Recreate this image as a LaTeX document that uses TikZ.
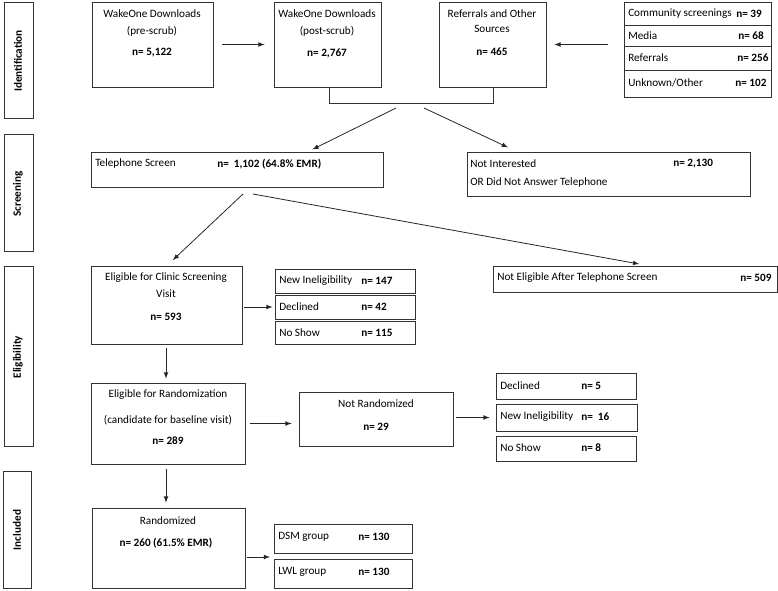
\documentclass[tikz,border=0pt]{standalone}
\usepackage{fontspec}
\setmainfont{Carlito}
\usepackage{tikz}
\usetikzlibrary{fit}
\tikzset{
  box/.style={draw=black!80, line width=0.6pt, inner sep=0pt, fit={#1}},
  txt/.style={inner sep=0pt, font=\fontsize{8.4}{10}\selectfont},
  ntxt/.style={txt, font=\fontsize{8.4}{10}\selectfont\bfseries},
  side/.style={inner sep=0pt, rotate=90, font=\fontsize{8.4}{10}\selectfont\bfseries},
  arr/.style={-latex, draw=black!85, line width=0.6pt}
}

\begin{document}
\begin{tikzpicture}[x=0.75pt, y=-0.75pt]
    \useasboundingbox (0,0) rectangle (778,590);
    % phase labels
    \node[box={(4,2) (33,118)}] (sid) {};
    \node[side] (sidT) at (18,61) {Identification};
    \node[box={(4,134) (33,251)}] (sscr) {};
    \node[side] (sscrT) at (18,194) {Screening};
    \node[box={(4,266) (33,446)}] (selg) {};
    \node[side] (selgT) at (18,357) {Eligibility};
    \node[box={(3,471) (31,588)}] (sinc) {};
    \node[side] (sincT) at (17,530) {Included};

    % identification
    \node[box={(92,2) (213,87)}] (pre) {};
    \node[txt] (preA) at (152,14) {WakeOne Downloads};
    \node[txt] (preB) at (152,31) {(pre-scrub)};
    \node[ntxt] (preN) at (152,53) {n= 5,122};
    \node[box={(274,2) (381,87)}] (post) {};
    \node[txt] (postA) at (327,14) {WakeOne Downloads};
    \node[txt] (postB) at (327,31) {(post-scrub)};
    \node[ntxt] (postN) at (327,53) {n= 2,767};
    \node[box={(439,2) (546,87)}] (ref) {};
    \node[txt] (refA) at (492,14) {Referrals and Other};
    \node[txt] (refB) at (492,29) {Sources};
    \node[ntxt] (refN) at (492,52) {n= 465};
    \node[box={(624,2) (771,97)}] (src) {};
    \draw[black!80, line width=0.6pt] (624,25) -- (771,25) (624,46) -- (771,46) (624,70) -- (771,70);
    \node[txt, anchor=west] (srcA) at (628,13.5) {Community screenings};
    \node[ntxt, anchor=west] (srcAn) at (736,13.5) {n= 39};
    \node[txt, anchor=west] (srcB) at (628,35.5) {Media};
    \node[ntxt, anchor=west] (srcBn) at (738,35.5) {n= 68};
    \node[txt, anchor=west] (srcC) at (628,58) {Referrals};
    \node[ntxt, anchor=west] (srcCn) at (737,58) {n= 256};
    \node[txt, anchor=west] (srcD) at (628,83) {Unknown/Other};
    \node[ntxt, anchor=west] (srcDn) at (735,83) {n= 102};

    \draw[arr, shorten <=6.75pt, shorten >=6.75pt] (pre) -- (post);
    \draw[arr, shorten <=12pt, shorten >=6pt] (src.west |- ref.east) -- (ref.east);
    \coordinate (jL) at (329,103);
    \coordinate (jR) at (493,103);
    \draw[black!80, line width=0.6pt] (post.south -| jL) -- (jL) -- (jR) -- (ref.south -| jR);
    \coordinate (splitL) at (396,108);
    \coordinate (splitR) at (424,108);

    % screening
    \node[box={(91,152) (383,187)}] (tel) {};
    \node[txt, anchor=west] (telA) at (95,164) {Telephone Screen};
    \node[ntxt, anchor=west] (telN) at (217,164) {n=\ \ 1,102 (64.8\% EMR)};
    \node[box={(467,152) (750,196)}] (nint) {};
    \node[txt, anchor=west] (nintA) at (470,164) {Not Interested};
    \node[ntxt, anchor=west] (nintN) at (673,164) {n= 2,130};
    \node[txt, anchor=west] (nintB) at (470,183) {OR Did Not Answer Telephone};
    \draw[arr, shorten >=3.75pt] (splitL) -- (tel.north -| 308,0);
    \draw[arr, shorten >=7.5pt] (splitR) -- (nint.north -| 517,0);
    \coordinate (telL) at (243,194);
    \coordinate (telR) at (253,194);

    % eligibility
    \node[box={(91,266) (242,344)}] (clin) {};
    \node[txt] (clinA) at (166,278) {Eligible for Clinic Screening};
    \node[txt] (clinB) at (166,294) {Visit};
    \node[ntxt] (clinN) at (166,317) {n= 593};
    \node[box={(493,266) (777,292)}] (nelig) {};
    \node[txt, anchor=west] (neligA) at (497,278) {Not Eligible After Telephone Screen};
    \node[ntxt, anchor=west] (neligN) at (740,278) {n= 509};
    \draw[arr, shorten >=6pt] (telL) -- (clin.north -| 167,0);
    \draw[arr, shorten >=6.75pt] (telR) -- (nelig.north -| 648,0);

    \node[box={(275,269) (415,293)}] (cinel) {};
    \node[txt, anchor=west] (cinelA) at (279,281) {New Ineligibility};
    \node[ntxt, anchor=west] (cinelN) at (361,281) {n= 147};
    \node[box={(275,295) (415,319)}] (cdec) {};
    \node[txt, anchor=west] (cdecA) at (279,307) {Declined};
    \node[ntxt, anchor=west] (cdecN) at (361,307) {n= 42};
    \node[box={(275,321) (415,344)}] (cshow) {};
    \node[txt, anchor=west] (cshowA) at (279,333) {No Show};
    \node[ntxt, anchor=west] (cshowN) at (361,333) {n= 115};
    \draw[arr, shorten <=1.5pt, shorten >=1.5pt] (clin.east |- cdec) -- (cdec.west);

    \node[box={(91,383) (245,464)}] (rand) {};
    \node[txt] (randA) at (168,395) {Eligible for Randomization};
    \node[txt] (randB) at (168,420) {(candidate for baseline visit)};
    \node[ntxt] (randN) at (168,441) {n= 289};
    \draw[arr, shorten <=3pt, shorten >=3pt] (clin.south -| 166,0) -- (rand.north -| 166,0);

    \node[box={(299,392) (453,446)}] (notr) {};
    \node[txt] (notrA) at (376,404) {Not Randomized};
    \node[ntxt] (notrN) at (376,427) {n= 29};
    \draw[arr, shorten <=3.75pt, shorten >=5.25pt] (rand.east) -- (rand.east -| notr.west);

    \node[box={(496,373) (636,399)}] (rdec) {};
    \node[txt, anchor=west] (rdecA) at (500,386) {Declined};
    \node[ntxt, anchor=west] (rdecN) at (581,386) {n= 5};
    \node[box={(496,404) (637,431)}] (rinel) {};
    \node[txt, anchor=west] (rinelA) at (500,417) {New Ineligibility};
    \node[ntxt, anchor=west] (rinelN) at (581,417) {n=\ \ 16};
    \node[box={(496,436) (636,461)}] (rshow) {};
    \node[txt, anchor=west] (rshowA) at (500,448) {No Show};
    \node[ntxt, anchor=west] (rshowN) at (581,448) {n= 8};
    \draw[arr, shorten <=2.25pt, shorten >=4.5pt] (notr.east |- rinel) -- (rinel.west);

    % included
    \node[box={(92,508) (245,588)}] (randz) {};
    \node[txt] (randzA) at (168,521) {Randomized};
    \node[ntxt] (randzN) at (166,543) {n= 260 (61.5\% EMR)};
    \draw[arr, shorten <=3.75pt, shorten >=3.75pt] (rand.south -| 166,0) -- (randz.north -| 166,0);

    \node[box={(274,524) (412,553)}] (dsm) {};
    \node[txt, anchor=west] (dsmA) at (278,537) {DSM group};
    \node[ntxt, anchor=west] (dsmN) at (358,537) {n= 130};
    \node[box={(274,559) (412,588)}] (lwl) {};
    \node[txt, anchor=west] (lwlA) at (278,572) {LWL group};
    \node[ntxt, anchor=west] (lwlN) at (358,572) {n= 130};
    \coordinate (grp) at (274,557);
    \draw[arr, shorten <=1.5pt, shorten >=3pt] (randz.east |- grp) -- (grp);
\end{tikzpicture}
\end{document}
